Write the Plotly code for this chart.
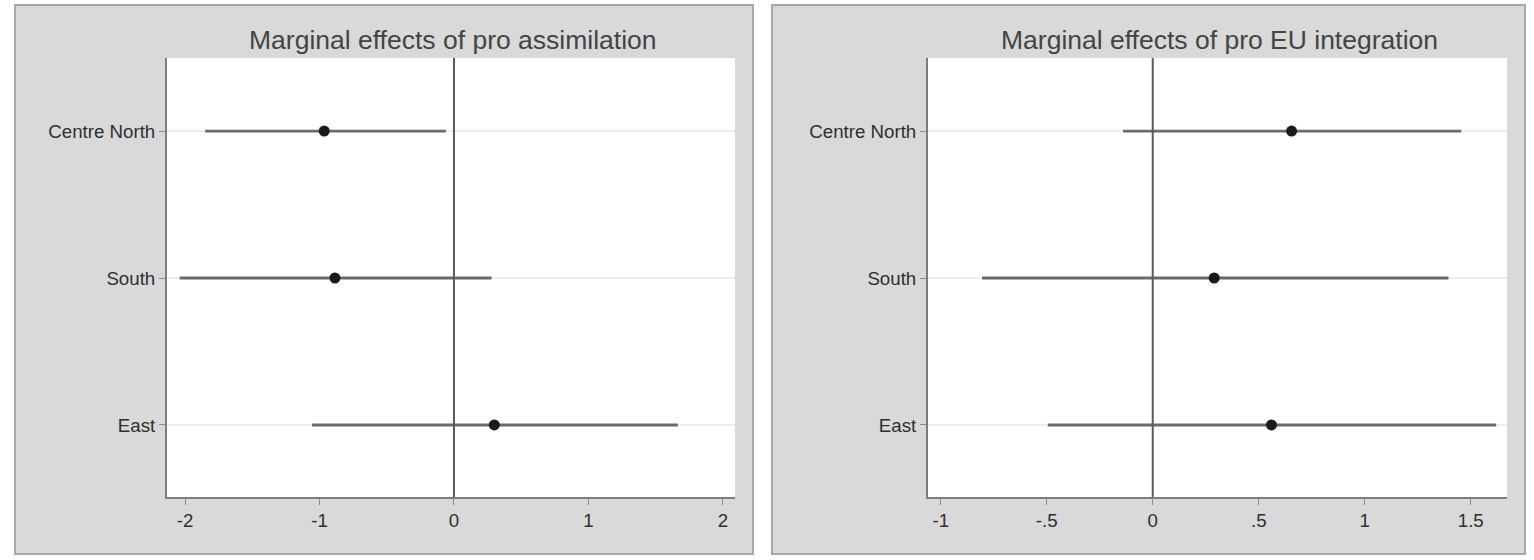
import plotly.graph_objects as go

regions = ["East", "South", "Centre North"]

assim_est = [0.30, -0.885, -0.965]
assim_lo = [-1.055, -2.04, -1.85]
assim_hi = [1.665, 0.28, -0.06]

eu_est = [0.56, 0.29, 0.655]
eu_lo = [-0.495, -0.805, -0.14]
eu_hi = [1.62, 1.395, 1.455]

assim_ticks = [-2, -1, 0, 1, 2]
assim_ticktext = ["-2", "-1", "0", "1", "2"]
eu_ticks = [-1, -0.5, 0, 0.5, 1, 1.5]
eu_ticktext = ["-1", "-.5", "0", ".5", "1", "1.5"]

W, H = 1534, 560
FONT = "Liberation Sans"
PANEL = "#d9d9d9"
EDGE = "#a8a8a8"
AXIS = "#7d7d7d"
TEXT = "#2f2f2f"


def px(x):
    return x / W


def py(y):
    return 1 - y / H


def add_effects(fig, est, lo, hi, xname, yname):
    fig.add_trace(go.Scatter(
        x=est, y=regions, xaxis=xname, yaxis=yname, mode="markers",
        marker=dict(color="#1a1a1a", size=11, symbol="circle"),
        error_x=dict(
            type="data", symmetric=False,
            array=[h - e for h, e in zip(hi, est)],
            arrayminus=[e - l for e, l in zip(est, lo)],
            color="#6a6a6a", thickness=2.8, width=0,
        ),
        showlegend=False,
    ))


fig = go.Figure()
add_effects(fig, assim_est, assim_lo, assim_hi, "x", "y")
add_effects(fig, eu_est, eu_lo, eu_hi, "x2", "y2")

xstyle = dict(
    showline=True, linecolor=AXIS, linewidth=2, ticks="outside", ticklen=6,
    tickcolor="#8a8a8a", tickwidth=1, showgrid=False, zeroline=False,
    tickfont=dict(family=FONT, size=18.7, color=TEXT),
)
ystyle = dict(
    showline=True, linecolor=AXIS, linewidth=2, ticks="outside", ticklen=6,
    tickcolor="#8a8a8a", tickwidth=1, showgrid=True, gridcolor="#eeeeee",
    gridwidth=1.5, zeroline=False, categoryorder="array", categoryarray=regions,
    range=[-0.49, 2.497], tickfont=dict(family=FONT, size=18.7, color=TEXT),
)

fig.update_layout(
    width=W, height=H, margin=dict(l=0, r=0, t=0, b=0),
    paper_bgcolor="white", plot_bgcolor="white",
    xaxis=dict(domain=[px(167), px(735)], anchor="y", range=[-2.134, 2.09],
               tickvals=assim_ticks, ticktext=assim_ticktext, **xstyle),
    yaxis=dict(domain=[py(497), py(58)], anchor="x", **ystyle),
    xaxis2=dict(domain=[px(928), px(1507)], anchor="y2", range=[-1.06, 1.671],
                tickvals=eu_ticks, ticktext=eu_ticktext, **xstyle),
    yaxis2=dict(domain=[py(497), py(58)], anchor="x2", **ystyle),
    shapes=[
        dict(type="rect", xref="paper", yref="paper", layer="below",
             x0=px(15), x1=px(753), y0=py(554), y1=py(5),
             fillcolor=PANEL, line=dict(color=EDGE, width=2)),
        dict(type="rect", xref="paper", yref="paper", layer="below",
             x0=px(772), x1=px(1525), y0=py(554), y1=py(5),
             fillcolor=PANEL, line=dict(color=EDGE, width=2)),
        # panels cover plot_bgcolor, so the white plot areas go back on top
        dict(type="rect", xref="x domain", yref="y domain", layer="below",
             x0=0, x1=1, y0=0, y1=1, fillcolor="white", line=dict(width=0)),
        dict(type="rect", xref="x2 domain", yref="y2 domain", layer="below",
             x0=0, x1=1, y0=0, y1=1, fillcolor="white", line=dict(width=0)),
        dict(type="line", xref="x", yref="y domain", x0=0, x1=0, y0=0, y1=1,
             line=dict(color="#5a5a5a", width=2)),
        dict(type="line", xref="x2", yref="y2 domain", x0=0, x1=0, y0=0, y1=1,
             line=dict(color="#5a5a5a", width=2)),
    ],
    annotations=[
        dict(text="Marginal effects of pro assimilation", xref="paper", yref="paper",
             x=px(452.5), y=py(40), xanchor="center", yanchor="middle", showarrow=False,
             font=dict(family=FONT, size=26.5, color="#444444")),
        dict(text="Marginal effects of pro EU integration", xref="paper", yref="paper",
             x=px(1219.5), y=py(40), xanchor="center", yanchor="middle", showarrow=False,
             font=dict(family=FONT, size=26.5, color="#444444")),
    ],
)

fig.write_html("out.html", config={"displayModeBar": False},
               post_script="document.body.style.margin = '0';")
